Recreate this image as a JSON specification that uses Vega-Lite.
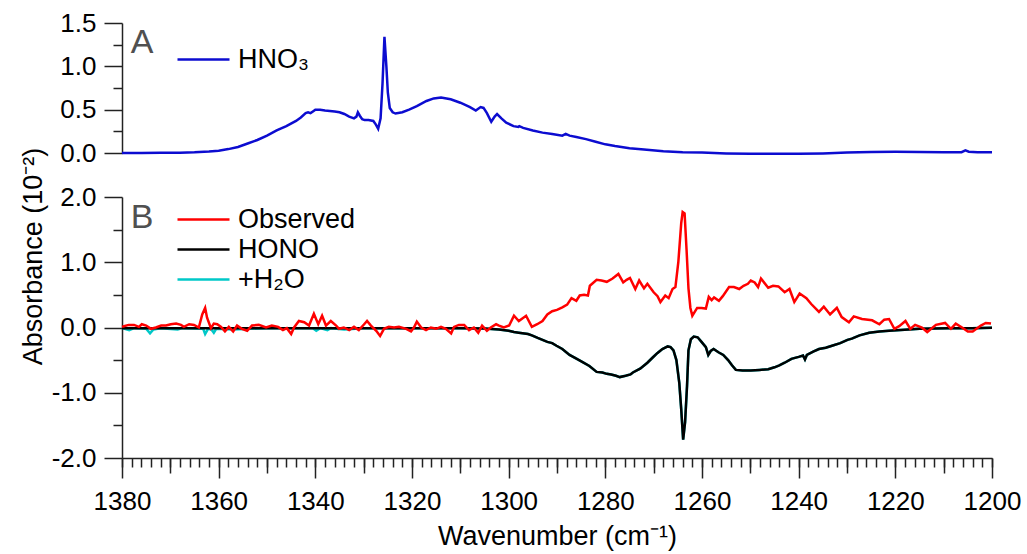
{
  "$schema": "https://vega.github.io/schema/vega-lite/v6.json",
  "padding": {"left": 19, "top": 10, "right": 5, "bottom": 5},
  "bounds": "flush",
  "spacing": 44,
  "config": {
    "view": {"stroke": null},
    "font": "Liberation Sans",
    "axis": {
      "grid": false,
      "labelFont": "Liberation Sans",
      "labelFontSize": 26,
      "labelColor": "#000000",
      "domainColor": "#222222",
      "tickColor": "#222222",
      "domainWidth": 1.5,
      "tickWidth": 1.5,
      "titleFont": "Liberation Sans",
      "titleFontSize": 27,
      "titleFontWeight": "normal",
      "titleColor": "#000000"
    },
    "legend": {
      "labelFont": "Liberation Sans",
      "labelFontSize": 27,
      "labelColor": "#000000"
    }
  },
  "datasets": {
    "hno3": [
      {"wn": 1380, "abs": 0.0}, {"wn": 1376, "abs": 0.001}, {"wn": 1372, "abs": 0.002}, {"wn": 1368, "abs": 0.004},
      {"wn": 1365, "abs": 0.008}, {"wn": 1362, "abs": 0.016}, {"wn": 1360, "abs": 0.026}, {"wn": 1358, "abs": 0.045},
      {"wn": 1356, "abs": 0.07}, {"wn": 1354, "abs": 0.11}, {"wn": 1352, "abs": 0.15}, {"wn": 1350, "abs": 0.2},
      {"wn": 1348, "abs": 0.26}, {"wn": 1346, "abs": 0.31}, {"wn": 1344, "abs": 0.37}, {"wn": 1343, "abs": 0.41},
      {"wn": 1342, "abs": 0.46}, {"wn": 1341.5, "abs": 0.47}, {"wn": 1341, "abs": 0.46}, {"wn": 1340.5, "abs": 0.48},
      {"wn": 1340, "abs": 0.5}, {"wn": 1339, "abs": 0.5}, {"wn": 1338, "abs": 0.49}, {"wn": 1337, "abs": 0.485},
      {"wn": 1336, "abs": 0.48}, {"wn": 1335, "abs": 0.47}, {"wn": 1334, "abs": 0.45}, {"wn": 1333, "abs": 0.42},
      {"wn": 1332, "abs": 0.4}, {"wn": 1331.5, "abs": 0.42}, {"wn": 1331.2, "abs": 0.47}, {"wn": 1330.8, "abs": 0.43},
      {"wn": 1330.3, "abs": 0.39}, {"wn": 1329.8, "abs": 0.38}, {"wn": 1329, "abs": 0.38}, {"wn": 1328, "abs": 0.37},
      {"wn": 1327.5, "abs": 0.33}, {"wn": 1327, "abs": 0.28}, {"wn": 1326.5, "abs": 0.4}, {"wn": 1326.1, "abs": 0.8},
      {"wn": 1325.7, "abs": 1.34}, {"wn": 1325.3, "abs": 1.0}, {"wn": 1325, "abs": 0.7}, {"wn": 1324.6, "abs": 0.52},
      {"wn": 1324, "abs": 0.47}, {"wn": 1323.4, "abs": 0.455}, {"wn": 1322, "abs": 0.47}, {"wn": 1320.6, "abs": 0.5},
      {"wn": 1319, "abs": 0.54}, {"wn": 1317, "abs": 0.6}, {"wn": 1315.5, "abs": 0.63}, {"wn": 1314, "abs": 0.64},
      {"wn": 1312, "abs": 0.62}, {"wn": 1310, "abs": 0.58}, {"wn": 1308, "abs": 0.53}, {"wn": 1306.8, "abs": 0.49},
      {"wn": 1305.8, "abs": 0.53}, {"wn": 1305.2, "abs": 0.52}, {"wn": 1304.5, "abs": 0.46}, {"wn": 1303.6, "abs": 0.36},
      {"wn": 1302.9, "abs": 0.42}, {"wn": 1302.4, "abs": 0.45}, {"wn": 1301.5, "abs": 0.4}, {"wn": 1300.5, "abs": 0.35},
      {"wn": 1299, "abs": 0.31}, {"wn": 1298, "abs": 0.3}, {"wn": 1297.8, "abs": 0.31}, {"wn": 1297, "abs": 0.29},
      {"wn": 1295, "abs": 0.26}, {"wn": 1293, "abs": 0.235}, {"wn": 1291, "abs": 0.22}, {"wn": 1288.9, "abs": 0.2},
      {"wn": 1288.2, "abs": 0.22}, {"wn": 1287.4, "abs": 0.2}, {"wn": 1286, "abs": 0.185}, {"wn": 1284, "abs": 0.16},
      {"wn": 1282, "abs": 0.13}, {"wn": 1280, "abs": 0.1}, {"wn": 1278, "abs": 0.08}, {"wn": 1275, "abs": 0.055},
      {"wn": 1272, "abs": 0.04}, {"wn": 1268, "abs": 0.02}, {"wn": 1264, "abs": 0.01}, {"wn": 1260, "abs": 0.005},
      {"wn": 1255, "abs": -0.005}, {"wn": 1250, "abs": -0.01}, {"wn": 1245, "abs": -0.01}, {"wn": 1240, "abs": -0.01},
      {"wn": 1235, "abs": -0.005}, {"wn": 1230, "abs": 0.005}, {"wn": 1225, "abs": 0.012}, {"wn": 1220, "abs": 0.015},
      {"wn": 1215, "abs": 0.012}, {"wn": 1210, "abs": 0.01}, {"wn": 1206.3, "abs": 0.01}, {"wn": 1205.5, "abs": 0.03},
      {"wn": 1204.8, "abs": 0.015}, {"wn": 1203, "abs": 0.01}, {"wn": 1200, "abs": 0.01}
    ],
    "obs": [
      {"wn": 1380, "abs": 0.01}, {"wn": 1379.6, "abs": 0.02}, {"wn": 1378.6, "abs": 0.04}, {"wn": 1377.5, "abs": 0.04},
      {"wn": 1376.5, "abs": 0.01}, {"wn": 1375.9, "abs": 0.05}, {"wn": 1375, "abs": 0.03}, {"wn": 1374, "abs": -0.02},
      {"wn": 1373, "abs": 0.0}, {"wn": 1371.9, "abs": 0.03}, {"wn": 1370.9, "abs": 0.03}, {"wn": 1369.9, "abs": 0.05},
      {"wn": 1368.8, "abs": 0.06}, {"wn": 1367.8, "abs": 0.04}, {"wn": 1367.2, "abs": 0.01}, {"wn": 1366.1, "abs": 0.05},
      {"wn": 1365.1, "abs": 0.04}, {"wn": 1364.1, "abs": 0.0}, {"wn": 1363.4, "abs": 0.2}, {"wn": 1362.8, "abs": 0.3},
      {"wn": 1362.4, "abs": 0.15}, {"wn": 1361.6, "abs": -0.01}, {"wn": 1361, "abs": 0.06}, {"wn": 1360.3, "abs": 0.05},
      {"wn": 1359.5, "abs": 0.01}, {"wn": 1358.7, "abs": -0.06}, {"wn": 1357.9, "abs": 0.01}, {"wn": 1357, "abs": -0.06},
      {"wn": 1356.2, "abs": 0.03}, {"wn": 1355.2, "abs": -0.02}, {"wn": 1354.1, "abs": -0.05}, {"wn": 1353.1, "abs": 0.03},
      {"wn": 1351.7, "abs": 0.04}, {"wn": 1350.2, "abs": 0.0}, {"wn": 1349, "abs": 0.03}, {"wn": 1347.7, "abs": 0.01},
      {"wn": 1346.7, "abs": -0.04}, {"wn": 1345.9, "abs": -0.01}, {"wn": 1345, "abs": -0.1}, {"wn": 1344.4, "abs": 0.0},
      {"wn": 1343.4, "abs": 0.1}, {"wn": 1342.3, "abs": 0.08}, {"wn": 1341.3, "abs": 0.03}, {"wn": 1340.3, "abs": 0.21},
      {"wn": 1339.4, "abs": 0.05}, {"wn": 1338.6, "abs": 0.18}, {"wn": 1337.8, "abs": 0.03}, {"wn": 1336.8, "abs": 0.1},
      {"wn": 1335.7, "abs": 0.03}, {"wn": 1335.1, "abs": -0.02}, {"wn": 1334.1, "abs": 0.0}, {"wn": 1333, "abs": -0.04},
      {"wn": 1332, "abs": 0.01}, {"wn": 1331, "abs": -0.04}, {"wn": 1329.9, "abs": 0.05}, {"wn": 1329.3, "abs": 0.1},
      {"wn": 1328.5, "abs": 0.03}, {"wn": 1327.4, "abs": -0.05}, {"wn": 1326.6, "abs": -0.13}, {"wn": 1325.8, "abs": -0.02},
      {"wn": 1324.8, "abs": 0.01}, {"wn": 1323.7, "abs": 0.0}, {"wn": 1322.7, "abs": 0.01}, {"wn": 1321.2, "abs": -0.02},
      {"wn": 1320.2, "abs": -0.06}, {"wn": 1319.6, "abs": 0.0}, {"wn": 1319, "abs": 0.09}, {"wn": 1318.1, "abs": 0.0},
      {"wn": 1317.1, "abs": -0.04}, {"wn": 1316.1, "abs": 0.0}, {"wn": 1315, "abs": -0.02}, {"wn": 1314, "abs": 0.01},
      {"wn": 1313, "abs": -0.02}, {"wn": 1311.9, "abs": -0.09}, {"wn": 1311.3, "abs": 0.01}, {"wn": 1310.3, "abs": 0.04},
      {"wn": 1309.2, "abs": 0.04}, {"wn": 1308.2, "abs": -0.04}, {"wn": 1307.2, "abs": 0.0}, {"wn": 1306.3, "abs": -0.08},
      {"wn": 1305.5, "abs": 0.03}, {"wn": 1304.5, "abs": -0.05}, {"wn": 1303.7, "abs": 0.0}, {"wn": 1302.6, "abs": 0.05},
      {"wn": 1302, "abs": 0.03}, {"wn": 1301, "abs": 0.0}, {"wn": 1299.9, "abs": 0.03}, {"wn": 1298.9, "abs": 0.18},
      {"wn": 1297.9, "abs": 0.1}, {"wn": 1296.4, "abs": 0.18}, {"wn": 1295.2, "abs": 0.01}, {"wn": 1294.1, "abs": 0.05},
      {"wn": 1293, "abs": 0.1}, {"wn": 1292, "abs": 0.2}, {"wn": 1291, "abs": 0.25}, {"wn": 1290, "abs": 0.27},
      {"wn": 1288.9, "abs": 0.31}, {"wn": 1287.9, "abs": 0.35}, {"wn": 1287, "abs": 0.45}, {"wn": 1286, "abs": 0.41},
      {"wn": 1285.3, "abs": 0.49}, {"wn": 1284.4, "abs": 0.5}, {"wn": 1283.6, "abs": 0.49}, {"wn": 1283.2, "abs": 0.64},
      {"wn": 1281.8, "abs": 0.73}, {"wn": 1280.8, "abs": 0.72}, {"wn": 1279.7, "abs": 0.7}, {"wn": 1278.5, "abs": 0.75},
      {"wn": 1277.3, "abs": 0.82}, {"wn": 1276.3, "abs": 0.69}, {"wn": 1275.6, "abs": 0.73}, {"wn": 1274.9, "abs": 0.76},
      {"wn": 1273.8, "abs": 0.59}, {"wn": 1273, "abs": 0.72}, {"wn": 1272, "abs": 0.6}, {"wn": 1271.3, "abs": 0.67},
      {"wn": 1270, "abs": 0.54}, {"wn": 1269.2, "abs": 0.48}, {"wn": 1268.6, "abs": 0.39}, {"wn": 1267.6, "abs": 0.49},
      {"wn": 1266.9, "abs": 0.45}, {"wn": 1266.1, "abs": 0.59}, {"wn": 1265.5, "abs": 0.62}, {"wn": 1264.9, "abs": 1.0},
      {"wn": 1264.3, "abs": 1.6}, {"wn": 1264, "abs": 1.77}, {"wn": 1263.6, "abs": 1.75}, {"wn": 1263.2, "abs": 1.2},
      {"wn": 1262.8, "abs": 0.6}, {"wn": 1262.4, "abs": 0.3}, {"wn": 1262, "abs": 0.18}, {"wn": 1261, "abs": 0.3},
      {"wn": 1260.1, "abs": 0.3}, {"wn": 1259.2, "abs": 0.29}, {"wn": 1258.6, "abs": 0.47}, {"wn": 1258, "abs": 0.42},
      {"wn": 1257.5, "abs": 0.46}, {"wn": 1256.5, "abs": 0.41}, {"wn": 1255.7, "abs": 0.48}, {"wn": 1254.4, "abs": 0.62},
      {"wn": 1253.4, "abs": 0.62}, {"wn": 1252.3, "abs": 0.59}, {"wn": 1251.4, "abs": 0.64}, {"wn": 1250.5, "abs": 0.67},
      {"wn": 1249.9, "abs": 0.72}, {"wn": 1249.1, "abs": 0.69}, {"wn": 1248.4, "abs": 0.62}, {"wn": 1247.8, "abs": 0.75},
      {"wn": 1246.3, "abs": 0.61}, {"wn": 1245.3, "abs": 0.64}, {"wn": 1244.2, "abs": 0.63}, {"wn": 1242.9, "abs": 0.54},
      {"wn": 1241.9, "abs": 0.59}, {"wn": 1240.9, "abs": 0.39}, {"wn": 1239.8, "abs": 0.52}, {"wn": 1238.4, "abs": 0.45},
      {"wn": 1237.4, "abs": 0.36}, {"wn": 1235.8, "abs": 0.24}, {"wn": 1234.8, "abs": 0.32}, {"wn": 1233.5, "abs": 0.2},
      {"wn": 1232.1, "abs": 0.3}, {"wn": 1231.1, "abs": 0.16}, {"wn": 1229.6, "abs": 0.08}, {"wn": 1228.6, "abs": 0.17},
      {"wn": 1226.9, "abs": 0.13}, {"wn": 1224.8, "abs": 0.11}, {"wn": 1223.3, "abs": 0.05}, {"wn": 1222.3, "abs": 0.12},
      {"wn": 1221.3, "abs": 0.13}, {"wn": 1220.2, "abs": -0.02}, {"wn": 1219.2, "abs": 0.02}, {"wn": 1217.9, "abs": 0.1},
      {"wn": 1216.9, "abs": -0.02}, {"wn": 1215.9, "abs": 0.04}, {"wn": 1214.5, "abs": 0.0}, {"wn": 1213.4, "abs": -0.07},
      {"wn": 1211.6, "abs": 0.04}, {"wn": 1209.7, "abs": 0.07}, {"wn": 1208.5, "abs": -0.02}, {"wn": 1207.5, "abs": 0.06},
      {"wn": 1206.2, "abs": 0.0}, {"wn": 1205, "abs": -0.06}, {"wn": 1204, "abs": -0.06}, {"wn": 1202.3, "abs": 0.03},
      {"wn": 1201.3, "abs": 0.07}, {"wn": 1200.2, "abs": 0.06}
    ],
    "hono": [
      {"wn": 1380, "abs": -0.01}, {"wn": 1370, "abs": -0.01}, {"wn": 1360, "abs": -0.012}, {"wn": 1350, "abs": -0.01},
      {"wn": 1340, "abs": -0.012}, {"wn": 1330, "abs": -0.01}, {"wn": 1320, "abs": -0.012}, {"wn": 1310, "abs": -0.01},
      {"wn": 1305, "abs": -0.015}, {"wn": 1302, "abs": -0.03}, {"wn": 1300, "abs": -0.05}, {"wn": 1298.9, "abs": -0.07},
      {"wn": 1297.9, "abs": -0.08}, {"wn": 1296, "abs": -0.1}, {"wn": 1295.2, "abs": -0.12}, {"wn": 1294, "abs": -0.16},
      {"wn": 1293, "abs": -0.19}, {"wn": 1292, "abs": -0.22}, {"wn": 1291, "abs": -0.24}, {"wn": 1290.1, "abs": -0.28},
      {"wn": 1288.9, "abs": -0.33}, {"wn": 1287.4, "abs": -0.42}, {"wn": 1285.9, "abs": -0.48}, {"wn": 1284.7, "abs": -0.53},
      {"wn": 1283.3, "abs": -0.59}, {"wn": 1281.8, "abs": -0.68}, {"wn": 1280.6, "abs": -0.69}, {"wn": 1279.7, "abs": -0.71},
      {"wn": 1278.8, "abs": -0.72}, {"wn": 1277.8, "abs": -0.74}, {"wn": 1277, "abs": -0.76}, {"wn": 1275.8, "abs": -0.74},
      {"wn": 1274.8, "abs": -0.72}, {"wn": 1274.3, "abs": -0.69}, {"wn": 1272.8, "abs": -0.63}, {"wn": 1271.3, "abs": -0.54},
      {"wn": 1270.2, "abs": -0.46}, {"wn": 1269.2, "abs": -0.39}, {"wn": 1268.2, "abs": -0.33}, {"wn": 1267.1, "abs": -0.29},
      {"wn": 1266.5, "abs": -0.3}, {"wn": 1265.9, "abs": -0.35}, {"wn": 1265.3, "abs": -0.5}, {"wn": 1264.7, "abs": -0.85},
      {"wn": 1264.3, "abs": -1.25}, {"wn": 1263.9, "abs": -1.72}, {"wn": 1263.5, "abs": -1.45}, {"wn": 1263.1, "abs": -0.9},
      {"wn": 1262.8, "abs": -0.35}, {"wn": 1262.3, "abs": -0.18}, {"wn": 1261.7, "abs": -0.14}, {"wn": 1260.9, "abs": -0.15},
      {"wn": 1260.1, "abs": -0.22}, {"wn": 1259.2, "abs": -0.3}, {"wn": 1258.7, "abs": -0.42}, {"wn": 1258.2, "abs": -0.36},
      {"wn": 1257.6, "abs": -0.33}, {"wn": 1256.6, "abs": -0.38}, {"wn": 1255.6, "abs": -0.42}, {"wn": 1254.6, "abs": -0.5},
      {"wn": 1253.8, "abs": -0.58}, {"wn": 1253, "abs": -0.65}, {"wn": 1251.6, "abs": -0.66}, {"wn": 1249.9, "abs": -0.66},
      {"wn": 1248.1, "abs": -0.65}, {"wn": 1246.3, "abs": -0.64}, {"wn": 1245, "abs": -0.61}, {"wn": 1244, "abs": -0.58},
      {"wn": 1242.9, "abs": -0.54}, {"wn": 1241.5, "abs": -0.48}, {"wn": 1240, "abs": -0.45}, {"wn": 1239.1, "abs": -0.43},
      {"wn": 1238.7, "abs": -0.49}, {"wn": 1238.3, "abs": -0.42}, {"wn": 1237, "abs": -0.37}, {"wn": 1235.8, "abs": -0.33},
      {"wn": 1234.4, "abs": -0.31}, {"wn": 1233.1, "abs": -0.28}, {"wn": 1231.4, "abs": -0.24}, {"wn": 1229.9, "abs": -0.19},
      {"wn": 1229, "abs": -0.17}, {"wn": 1227.4, "abs": -0.12}, {"wn": 1225.4, "abs": -0.08}, {"wn": 1223.3, "abs": -0.06},
      {"wn": 1221.3, "abs": -0.05}, {"wn": 1217.3, "abs": -0.03}, {"wn": 1215, "abs": -0.02}, {"wn": 1209.2, "abs": -0.01},
      {"wn": 1204.2, "abs": -0.01}, {"wn": 1200, "abs": -0.005}
    ],
    "h2o": [
      {"wn": 1380, "abs": -0.01}, {"wn": 1378.5, "abs": -0.04}, {"wn": 1377.5, "abs": -0.01}, {"wn": 1375, "abs": -0.02},
      {"wn": 1374.2, "abs": -0.09}, {"wn": 1373.5, "abs": -0.03}, {"wn": 1372, "abs": -0.01}, {"wn": 1368.5, "abs": -0.03},
      {"wn": 1367.5, "abs": -0.01}, {"wn": 1363.2, "abs": -0.02}, {"wn": 1362.8, "abs": -0.1}, {"wn": 1362.2, "abs": -0.02},
      {"wn": 1361.5, "abs": -0.03}, {"wn": 1361, "abs": -0.08}, {"wn": 1360.5, "abs": -0.02}, {"wn": 1357, "abs": -0.03},
      {"wn": 1350, "abs": -0.01}, {"wn": 1340.5, "abs": -0.01}, {"wn": 1339.8, "abs": -0.05}, {"wn": 1339, "abs": -0.01},
      {"wn": 1337.5, "abs": -0.04}, {"wn": 1336.8, "abs": -0.01}, {"wn": 1334, "abs": -0.03}, {"wn": 1330, "abs": -0.01},
      {"wn": 1310, "abs": -0.01}, {"wn": 1305, "abs": -0.015}, {"wn": 1302, "abs": -0.03}, {"wn": 1300, "abs": -0.05},
      {"wn": 1298.9, "abs": -0.07}, {"wn": 1297.9, "abs": -0.08}, {"wn": 1296, "abs": -0.1}, {"wn": 1295.2, "abs": -0.12},
      {"wn": 1294, "abs": -0.16}, {"wn": 1293, "abs": -0.19}, {"wn": 1292, "abs": -0.22}, {"wn": 1291, "abs": -0.24},
      {"wn": 1290.1, "abs": -0.28}, {"wn": 1288.9, "abs": -0.33}, {"wn": 1287.4, "abs": -0.42}, {"wn": 1285.9, "abs": -0.48},
      {"wn": 1284.7, "abs": -0.53}, {"wn": 1283.3, "abs": -0.59}, {"wn": 1281.8, "abs": -0.68}, {"wn": 1280.6, "abs": -0.69},
      {"wn": 1279.7, "abs": -0.71}, {"wn": 1278.8, "abs": -0.72}, {"wn": 1277.8, "abs": -0.74}, {"wn": 1277, "abs": -0.76},
      {"wn": 1275.8, "abs": -0.74}, {"wn": 1274.8, "abs": -0.72}, {"wn": 1274.3, "abs": -0.69}, {"wn": 1272.8, "abs": -0.63},
      {"wn": 1271.3, "abs": -0.54}, {"wn": 1270.2, "abs": -0.46}, {"wn": 1269.2, "abs": -0.39}, {"wn": 1268.2, "abs": -0.33},
      {"wn": 1267.1, "abs": -0.29}, {"wn": 1266.5, "abs": -0.3}, {"wn": 1265.9, "abs": -0.35}, {"wn": 1265.3, "abs": -0.5},
      {"wn": 1264.7, "abs": -0.85}, {"wn": 1264.3, "abs": -1.25}, {"wn": 1263.9, "abs": -1.72}, {"wn": 1263.5, "abs": -1.45},
      {"wn": 1263.1, "abs": -0.9}, {"wn": 1262.8, "abs": -0.35}, {"wn": 1262.3, "abs": -0.18}, {"wn": 1261.7, "abs": -0.14},
      {"wn": 1260.9, "abs": -0.15}, {"wn": 1260.1, "abs": -0.22}, {"wn": 1259.2, "abs": -0.3}, {"wn": 1258.7, "abs": -0.42},
      {"wn": 1258.2, "abs": -0.36}, {"wn": 1257.6, "abs": -0.33}, {"wn": 1256.6, "abs": -0.38}, {"wn": 1255.6, "abs": -0.42},
      {"wn": 1254.6, "abs": -0.5}, {"wn": 1253.8, "abs": -0.58}, {"wn": 1253, "abs": -0.65}, {"wn": 1251.6, "abs": -0.66},
      {"wn": 1249.9, "abs": -0.66}, {"wn": 1248.1, "abs": -0.65}, {"wn": 1246.3, "abs": -0.64}, {"wn": 1245, "abs": -0.61},
      {"wn": 1244, "abs": -0.58}, {"wn": 1242.9, "abs": -0.54}, {"wn": 1241.5, "abs": -0.48}, {"wn": 1240, "abs": -0.45},
      {"wn": 1239.1, "abs": -0.43}, {"wn": 1238.7, "abs": -0.49}, {"wn": 1238.3, "abs": -0.42}, {"wn": 1237, "abs": -0.37},
      {"wn": 1235.8, "abs": -0.33}, {"wn": 1234.4, "abs": -0.31}, {"wn": 1233.1, "abs": -0.28}, {"wn": 1231.4, "abs": -0.24},
      {"wn": 1229.9, "abs": -0.19}, {"wn": 1229, "abs": -0.17}, {"wn": 1227.4, "abs": -0.12}, {"wn": 1225.4, "abs": -0.08},
      {"wn": 1223.3, "abs": -0.06}, {"wn": 1221.3, "abs": -0.05}, {"wn": 1217.3, "abs": -0.03}, {"wn": 1215, "abs": -0.02},
      {"wn": 1209.2, "abs": -0.01}, {"wn": 1204.2, "abs": -0.01}, {"wn": 1200, "abs": -0.005}
    ]
  },
  "vconcat": [
    {
      "width": 870,
      "height": 130,
      "layer": [
        {
          "data": {"name": "hno3"},
          "mark": {"type": "line", "strokeWidth": 2.5, "interpolate": "linear"},
          "encoding": {
            "x": {"field": "wn", "type": "quantitative", "scale": {"domain": [1200, 1380], "reverse": true, "nice": false, "zero": false}, "axis": null},
            "y": {"field": "abs", "type": "quantitative", "scale": {"domain": [0, 1.5], "nice": false, "zero": false},
                  "axis": {"orient": "left", "values": [0.25, 0.75, 1.25], "tickSize": 9, "labels": false, "domain": false, "title": null}},
            "color": {"datum": "HNO₃", "type": "nominal",
                      "scale": {"domain": ["HNO₃"], "range": ["#0c0cd0"]},
                      "legend": {"orient": "none", "legendX": 54, "legendY": 22, "title": null, "symbolType": "M-1,0H3", "symbolSize": 676, "symbolStrokeWidth": 2.5, "labelOffset": 33}}
          }
        },
        {
          "mark": {"type": "rule", "color": "#000000", "strokeWidth": 1.5},
          "encoding": {
            "y": {"datum": 0, "type": "quantitative",
                  "axis": {"orient": "left", "values": [0, 0.5, 1.0, 1.5], "tickSize": 18, "labelPadding": 8, "format": ".1f", "title": null}}
          }
        },
        {
          "data": {"values": [{}]},
          "mark": {"type": "text", "align": "left", "baseline": "alphabetic", "fontSize": 34, "color": "#505050", "font": "Liberation Sans"},
          "encoding": {
            "x": {"datum": 1378.2, "type": "quantitative", "axis": null},
            "y": {"datum": 1.15, "type": "quantitative", "axis": null},
            "text": {"value": "A"}
          }
        }
      ],
      "resolve": {"axis": {"y": "independent", "x": "independent"}}
    },
    {
      "width": 870,
      "height": 261,
      "layer": [
        {
          "data": {"name": "h2o"},
          "mark": {"type": "line", "strokeWidth": 2.5},
          "encoding": {
            "x": {"field": "wn", "type": "quantitative", "scale": {"domain": [1200, 1380], "reverse": true, "nice": false, "zero": false},
                  "axis": {"orient": "bottom", "values": [1380, 1360, 1340, 1320, 1300, 1280, 1260, 1240, 1220, 1200], "format": "d", "tickSize": 20, "labelPadding": 10, "labelFlush": false, "labelOverlap": false, "title": "Wavenumber (cm⁻¹)", "titlePadding": 9}},
            "y": {"field": "abs", "type": "quantitative", "scale": {"domain": [-2, 2], "nice": false, "zero": false},
                  "axis": {"orient": "left", "values": [-1.5, -0.5, 0.5, 1.5], "tickSize": 9, "labels": false, "domain": false, "title": null}},
            "color": {"datum": "+H₂O", "type": "nominal",
                      "scale": {"domain": ["Observed", "HONO", "+H₂O"], "range": ["#ff0000", "#000000", "#00c8c8"]},
                      "legend": {"orient": "none", "legendX": 54, "legendY": 8, "title": null, "symbolType": "M-1,0H3", "symbolSize": 676, "symbolStrokeWidth": 2.5, "labelOffset": 33, "rowPadding": 2}}
          }
        },
        {
          "data": {"name": "hono"},
          "mark": {"type": "line", "strokeWidth": 2.5},
          "encoding": {
            "x": {"field": "wn", "type": "quantitative",
                  "axis": {"orient": "bottom", "values": [1370, 1350, 1330, 1310, 1290, 1270, 1250, 1230, 1210], "tickSize": 15, "labels": false, "domain": false, "title": null}},
            "y": {"field": "abs", "type": "quantitative", "axis": null},
            "color": {"datum": "HONO", "type": "nominal"}
          }
        },
        {
          "data": {"name": "obs"},
          "mark": {"type": "line", "strokeWidth": 2.5},
          "encoding": {
            "x": {"field": "wn", "type": "quantitative",
                  "axis": {"orient": "bottom", "values": [1380, 1378, 1376, 1374, 1372, 1370, 1368, 1366, 1364, 1362, 1360, 1358, 1356, 1354, 1352, 1350, 1348, 1346, 1344, 1342, 1340, 1338, 1336, 1334, 1332, 1330, 1328, 1326, 1324, 1322, 1320, 1318, 1316, 1314, 1312, 1310, 1308, 1306, 1304, 1302, 1300, 1298, 1296, 1294, 1292, 1290, 1288, 1286, 1284, 1282, 1280, 1278, 1276, 1274, 1272, 1270, 1268, 1266, 1264, 1262, 1260, 1258, 1256, 1254, 1252, 1250, 1248, 1246, 1244, 1242, 1240, 1238, 1236, 1234, 1232, 1230, 1228, 1226, 1224, 1222, 1220, 1218, 1216, 1214, 1212, 1210, 1208, 1206, 1204, 1202, 1200], "tickSize": 9, "labels": false, "domain": false, "title": null}},
            "y": {"field": "abs", "type": "quantitative", "axis": null},
            "color": {"datum": "Observed", "type": "nominal"}
          }
        },
        {
          "mark": {"type": "rule", "color": "#000000", "strokeWidth": 1.5},
          "encoding": {
            "y": {"datum": 0, "type": "quantitative",
                  "axis": {"orient": "left", "values": [-2, -1, 0, 1, 2], "tickSize": 18, "labelPadding": 8,
                           "labelExpr": "replace(format(datum.value, '.1f'), '\u2212', '-')",
                           "title": "Absorbance (10⁻²)", "titleAngle": 270, "titleAlign": "center", "titleBaseline": "middle", "titleX": -89, "titleY": 59}}
          }
        },
        {
          "data": {"values": [{}]},
          "mark": {"type": "text", "align": "left", "baseline": "alphabetic", "fontSize": 34, "color": "#505050", "font": "Liberation Sans"},
          "encoding": {
            "x": {"datum": 1378.2, "type": "quantitative", "axis": null},
            "y": {"datum": 1.53, "type": "quantitative", "axis": null},
            "text": {"value": "B"}
          }
        }
      ],
      "resolve": {"axis": {"y": "independent", "x": "independent"}}
    }
  ],
  "resolve": {"scale": {"color": "independent"}, "legend": {"color": "independent"}}
}
